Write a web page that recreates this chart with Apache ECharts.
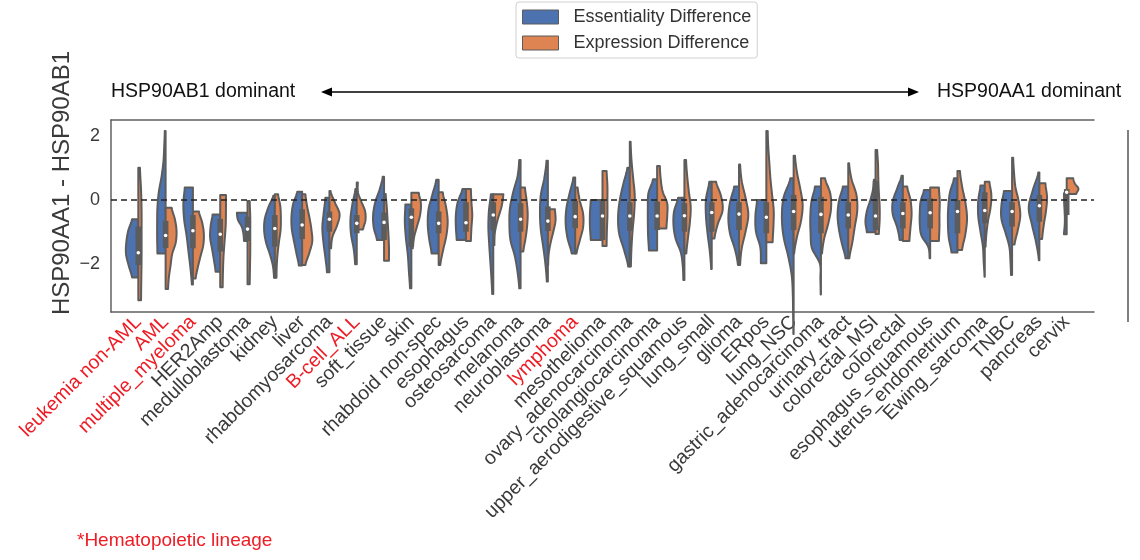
<!DOCTYPE html>
<html><head><meta charset="utf-8">
<script src="https://cdn.jsdelivr.net/npm/echarts@6/dist/echarts.min.js"></script>
<style>html,body{margin:0;padding:0;background:#fff}#c{width:1140px;height:560px}</style>
</head><body><div id="c"></div>
<script>
const categories = ['leukemia non-AML','AML','multiple_myeloma','HER2Amp','medulloblastoma','kidney','liver','rhabdomyosarcoma','B-cell_ALL','soft_tissue','skin','rhabdoid non-spec','esophagus','osteosarcoma','melanoma','neuroblastoma','lymphoma','mesothelioma','ovary_adenocarcinoma','cholangiocarcinoma','upper_aerodigestive_squamous','lung_small','glioma','ERpos','lung_NSC','gastric_adenocarcinoma','urinary_tract','colorectal_MSI','colorectal','esophagus_squamous','uterus_endometrium','Ewing_sarcoma','TNBC','pancreas','cervix'];
const hematopoietic = ['leukemia non-AML','AML','multiple_myeloma','B-cell_ALL','lymphoma'];
const yTicks = [-2, 0, 2];

// Essentiality Difference (left halves): top value, bottom value, half-widths from top to bottom
const essTop = [-0.60,2.16,0.39,-0.45,-0.40,0.13,0.26,0.07,0.34,0.73,-0.14,0.63,0.34,0.18,1.25,1.23,0.70,0.00,1.01,0.65,0.07,0.57,0.42,0.00,0.68,0.42,0.42,0.63,0.76,0.31,0.68,0.45,0.28,0.86,0.21];
const essBottom = [-2.42,-1.67,-2.64,-2.24,-1.28,-2.43,-2.05,-2.26,-2.01,-1.25,-2.76,-1.67,-1.25,-2.94,-2.76,-2.55,-1.67,-1.25,-2.08,-1.58,-2.50,-2.16,-2.03,-1.98,-4.19,-2.95,-1.82,-1.01,-1.25,-1.82,-1.64,-2.40,-2.34,-1.88,-1.07];
const essWidth = [
 [0.23,0.37,0.44,0.45,0.35,0.23],
 [0.03,0.05,0.08,0.15,0.25,0.30,0.31,0.31,0.30],
 [0.30,0.35,0.32,0.23,0.16,0.09,0.04],
 [0.28,0.35,0.37,0.30,0.23,0.17],
 [0.39,0.35,0.21,0.15,0.13],
 [0.06,0.24,0.37,0.39,0.32,0.18,0.07,0.03],
 [0.18,0.33,0.39,0.38,0.30,0.21,0.12],
 [0.15,0.21,0.26,0.22,0.15,0.09],
 [0.05,0.16,0.23,0.21,0.11,0.06],
 [0.05,0.16,0.32,0.40,0.38,0.26],
 [0.22,0.24,0.20,0.13,0.09,0.05],
 [0.09,0.23,0.37,0.40,0.35,0.26],
 [0.13,0.30,0.37,0.37,0.34],
 [0.09,0.16,0.18,0.15,0.11,0.07,0.04],
 [0.05,0.11,0.27,0.39,0.41,0.37,0.21,0.11,0.05],
 [0.05,0.13,0.26,0.29,0.26,0.17,0.09,0.04],
 [0.07,0.20,0.32,0.35,0.28,0.13],
 [0.43,0.46,0.46,0.43],
 [0.09,0.24,0.37,0.43,0.39,0.21,0.06],
 [0.15,0.32,0.34,0.34,0.33,0.30],
 [0.23,0.38,0.40,0.32,0.13,0.06,0.04],
 [0.09,0.21,0.21,0.15,0.07,0.02],
 [0.18,0.33,0.39,0.33,0.15,0.04],
 [0.34,0.40,0.38,0.22,0.20],
 [0.12,0.37,0.43,0.37,0.20,0.07,0.03,0.02,0.01],
 [0.22,0.35,0.39,0.38,0.33,0.04,0.02,0.01],
 [0.20,0.34,0.39,0.34,0.23,0.10],
 [0.06,0.10,0.20,0.32,0.37,0.32],
 [0.05,0.21,0.37,0.37,0.21,0.12],
 [0.23,0.35,0.38,0.38,0.32,0.07,0.02],
 [0.13,0.28,0.34,0.35,0.32,0.22],
 [0.16,0.24,0.24,0.16,0.07,0.04,0.01],
 [0.30,0.39,0.39,0.24,0.10,0.06,0.04],
 [0.04,0.24,0.39,0.27,0.12,0.02],
 [0.10,0.09,0.07,0.07,0.10]
];

// Expression Difference (right halves)
const expTop = [1.01,-0.24,-0.36,0.16,-0.03,0.18,0.18,0.28,0.55,0.19,0.23,0.24,0.34,0.18,0.39,-0.29,0.39,0.91,1.82,1.06,1.25,0.57,1.11,2.16,1.38,0.68,1.15,1.56,0.42,0.39,0.91,0.57,1.32,0.52,0.68];
const expBottom = [-3.13,-2.78,-2.45,-2.73,-2.63,-2.43,-2.03,-1.51,-0.92,-1.90,-1.51,-2.03,-1.28,-1.41,-1.61,-2.03,-1.67,-1.44,-2.08,-0.89,-1.67,-1.20,-2.03,-1.32,-1.67,-1.67,-1.82,-1.06,-1.28,-1.28,-1.56,-1.46,-1.39,-1.22,0.19];
const expWidth = [
 [0.06,0.10,0.12,0.12,0.12,0.11,0.10],
 [0.22,0.34,0.40,0.37,0.24,0.18,0.12,0.09],
 [0.22,0.34,0.40,0.38,0.28,0.18,0.10],
 [0.21,0.21,0.20,0.16,0.12,0.10,0.09],
 [0.08,0.10,0.10,0.10,0.09,0.08],
 [0.12,0.20,0.22,0.21,0.15,0.10,0.07,0.06],
 [0.12,0.18,0.27,0.34,0.37,0.26,0.12],
 [0.04,0.20,0.37,0.28,0.11,0.06],
 [0.04,0.04,0.16,0.30,0.32,0.23],
 [0.06,0.10,0.13,0.16,0.18,0.18],
 [0.27,0.35,0.32,0.21,0.10,0.05],
 [0.15,0.27,0.33,0.28,0.16,0.06],
 [0.18,0.20,0.23,0.20,0.18],
 [0.37,0.30,0.16,0.06,0.04],
 [0.16,0.22,0.26,0.24,0.18,0.10],
 [0.26,0.28,0.20,0.10,0.03,0.01],
 [0.09,0.17,0.29,0.29,0.17,0.05],
 [0.15,0.18,0.18,0.18,0.16,0.15],
 [0.03,0.06,0.12,0.18,0.16,0.10,0.06,0.04],
 [0.10,0.13,0.20,0.37,0.37,0.34],
 [0.06,0.10,0.16,0.23,0.20,0.13,0.07],
 [0.16,0.34,0.40,0.22,0.10],
 [0.04,0.10,0.24,0.34,0.24,0.10,0.04],
 [0.05,0.07,0.11,0.15,0.21,0.27,0.26,0.23],
 [0.05,0.12,0.24,0.33,0.27,0.12,0.02],
 [0.15,0.34,0.37,0.27,0.12,0.04],
 [0.03,0.12,0.30,0.33,0.24,0.15,0.04],
 [0.06,0.09,0.10,0.12,0.15,0.15,0.12],
 [0.16,0.28,0.32,0.28,0.24],
 [0.32,0.35,0.34,0.34,0.32],
 [0.09,0.17,0.29,0.35,0.29,0.17],
 [0.17,0.24,0.21,0.12,0.06,0.03],
 [0.04,0.07,0.12,0.24,0.30,0.21,0.09],
 [0.22,0.28,0.24,0.16,0.10],
 [0.24,0.30,0.43,0.35]
];

// inner box: upper quartile, median, lower quartile
const boxUpper = [-0.83,-0.65,-0.47,-0.59,-0.52,-0.47,-0.29,-0.36,-0.47,-0.39,-0.26,-0.36,-0.07,-0.07,-0.10,-0.20,-0.03,-0.03,-0.07,-0.05,-0.10,-0.07,-0.07,-0.07,0.16,0.10,-0.07,0.60,-0.07,0.05,0.00,0.24,-0.07,0.16,0.34];
const boxMedian = [-1.65,-1.11,-0.96,-1.07,-0.91,-0.89,-0.78,-0.60,-0.73,-0.70,-0.54,-0.73,-0.71,-0.47,-0.60,-0.66,-0.52,-0.50,-0.50,-0.50,-0.49,-0.39,-0.44,-0.54,-0.36,-0.45,-0.47,-0.50,-0.42,-0.40,-0.36,-0.33,-0.36,-0.18,0.24];
const boxLower = [-2.03,-1.50,-1.51,-1.61,-1.28,-1.46,-1.22,-0.99,-1.04,-1.25,-1.46,-1.04,-0.99,-0.94,-0.99,-0.97,-0.88,-1.25,-0.97,-0.94,-0.99,-0.99,-0.94,-1.04,-0.94,-1.04,-0.89,-0.94,-0.89,-0.89,-1.04,-0.73,-0.83,-0.68,-0.47];

const BLUE = '#4c72b0', ORANGE = '#dd8452', EDGE = '#5c5c5c', FONT = '"Liberation Sans", Arial, sans-serif';

function smooth(w, S) {
  const n = w.length;
  if (n < 2) return w.slice();
  const out = [];
  for (let k = 0; k < n - 1; k++) {
    const p0 = w[Math.max(k - 1, 0)], p1 = w[k], p2 = w[k + 1], p3 = w[Math.min(k + 2, n - 1)];
    for (let s = 0; s < S; s++) {
      const t = s / S;
      const v = 0.5 * (2 * p1 + (-p0 + p2) * t + (2 * p0 - 5 * p1 + 4 * p2 - p3) * t * t + (-p0 + 3 * p1 - 3 * p2 + p3) * t * t * t);
      out.push(Math.max(0, v));
    }
  }
  out.push(w[n - 1]);
  return out;
}

function halfRenderer(tops, bottoms, widths, side, color) {
  return function (params, api) {
    const i = params.dataIndex;
    const cx = api.coord([i, 0])[0];
    const unit = api.size([1, 0])[0];
    const yTop = api.coord([i, tops[i]])[1];
    const yBot = api.coord([i, bottoms[i]])[1];
    const prof = smooth(widths[i], 10);
    const n = prof.length;
    const pts = [[cx, yTop]];
    for (let k = 0; k < n; k++) {
      const t = k / (n - 1);
      pts.push([cx + side * prof[k] * unit, yTop + (yBot - yTop) * t]);
    }
    pts.push([cx, yBot]);
    return { type: 'polygon', shape: { points: pts }, style: { fill: color, stroke: EDGE, lineWidth: 2, lineJoin: 'round' } };
  };
}

function boxRenderer(params, api) {
  const i = params.dataIndex;
  const cx = api.coord([i, 0])[0];
  const yU = api.coord([i, boxUpper[i]])[1];
  const yL = api.coord([i, boxLower[i]])[1];
  const yM = api.coord([i, boxMedian[i]])[1];
  return { type: 'group', children: [
    { type: 'rect', shape: { x: cx - 2.8, y: yU, width: 5.6, height: yL - yU }, style: { fill: EDGE } },
    { type: 'circle', shape: { cx: cx, cy: yM, r: 1.8 }, style: { fill: '#ffffff' } }
  ] };
}

const idx = categories.map((c, i) => [i]);
const chart = echarts.init(document.getElementById('c'), null, { renderer: 'canvas' });
chart.setOption({
  animation: false,
  backgroundColor: '#ffffff',
  textStyle: { fontFamily: FONT },
  grid: { left: 111, right: 46, top: 120, bottom: 248, containLabel: false },
  legend: {
    data: ['Essentiality Difference', 'Expression Difference'],
    orient: 'vertical', left: 516, top: 2,
    icon: 'rect', itemWidth: 36, itemHeight: 14, itemGap: 8,
    padding: [6, 6, 6, 6],
    borderColor: '#d0d0d0', borderWidth: 1, borderRadius: 3,
    itemStyle: { borderColor: EDGE, borderWidth: 1 },
    textStyle: { fontSize: 18, color: '#333', fontFamily: FONT, padding: [0, 0, 0, 10] },
    selectedMode: false
  },
  xAxis: [{
    type: 'value', min: -1, max: 35, interval: 1, position: 'bottom',
    axisLine: { show: true, onZero: false, lineStyle: { color: '#606060', width: 1.5 } },
    axisTick: { show: false }, splitLine: { show: false },
    axisLabel: {
      rotate: 45, margin: 7, fontSize: 19.5, fontFamily: FONT,
      formatter: function (v) {
        const i = Math.round(v);
        if (i < 0 || i >= categories.length) return '';
        const n = categories[i];
        return (hematopoietic.indexOf(n) >= 0 ? '{r|' : '{k|') + n + '}';
      },
      rich: { r: { color: '#ee1c25', fontSize: 19.5, fontFamily: FONT }, k: { color: '#3a3a3a', fontSize: 19.5, fontFamily: FONT } }
    }
  }, {
    type: 'value', min: -1, max: 35, interval: 1, position: 'top',
    axisLine: { show: true, onZero: false, lineStyle: { color: '#606060', width: 1.5 } },
    axisTick: { show: false }, splitLine: { show: false }, axisLabel: { show: false }
  }],
  yAxis: {
    type: 'value', min: -3.5, max: 2.5, interval: 0.5,
    axisLine: { show: true, onZero: false, lineStyle: { color: '#606060', width: 1.5 } },
    axisTick: { show: false }, splitLine: { show: false },
    axisLabel: {
      margin: 11, fontSize: 18, color: '#3a3a3a', fontFamily: FONT,
      formatter: function (v) { return yTicks.indexOf(v) >= 0 ? String(v).replace('-', '\u2212') : ''; }
    }
  },
  series: [
    { name: 'Essentiality Difference', type: 'custom', data: idx, renderItem: halfRenderer(essTop, essBottom, essWidth, -1, BLUE), itemStyle: { color: BLUE }, silent: true, z: 2 },
    { name: 'Expression Difference', type: 'custom', data: idx, renderItem: halfRenderer(expTop, expBottom, expWidth, 1, ORANGE), itemStyle: { color: ORANGE }, silent: true, z: 2 },
    { name: 'box', type: 'custom', data: idx, renderItem: boxRenderer, silent: true, z: 3,
      markLine: { silent: true, symbol: ['none', 'none'], label: { show: false },
        lineStyle: { color: '#222', width: 1.5, type: [6, 4] },
        data: [[{ coord: [-1, 0] }, { coord: [35, 0] }]] } }
  ],
  graphic: [
    { type: 'text', x: 62, y: 183, rotation: Math.PI / 2, style: { text: 'HSP90AA1 - HSP90AB1', fontSize: 24, fontFamily: FONT, fill: '#3a3a3a', align: 'center', verticalAlign: 'middle' } },
    { type: 'text', x: 111, y: 92, style: { text: 'HSP90AB1 dominant', fontSize: 19.5, fontFamily: FONT, fill: '#111', align: 'left', verticalAlign: 'middle' } },
    { type: 'text', x: 937, y: 92, style: { text: 'HSP90AA1 dominant', fontSize: 19.5, fontFamily: FONT, fill: '#111', align: 'left', verticalAlign: 'middle' } },
    { type: 'line', shape: { x1: 328, y1: 92, x2: 912, y2: 92 }, style: { stroke: '#000', lineWidth: 1.5 } },
    { type: 'polygon', shape: { points: [[321, 92], [332, 87.5], [332, 96.5]] }, style: { fill: '#000' } },
    { type: 'polygon', shape: { points: [[919, 92], [908, 87.5], [908, 96.5]] }, style: { fill: '#000' } },
    { type: 'line', shape: { x1: 1128, y1: 130, x2: 1128, y2: 322 }, style: { stroke: '#555', lineWidth: 1.5 } },
    { type: 'text', x: 77, y: 541, style: { text: '*Hematopoietic lineage', fontSize: 19, fontFamily: FONT, fill: '#ee1c25', align: 'left', verticalAlign: 'middle' } }
  ]
});
</script></body></html>
